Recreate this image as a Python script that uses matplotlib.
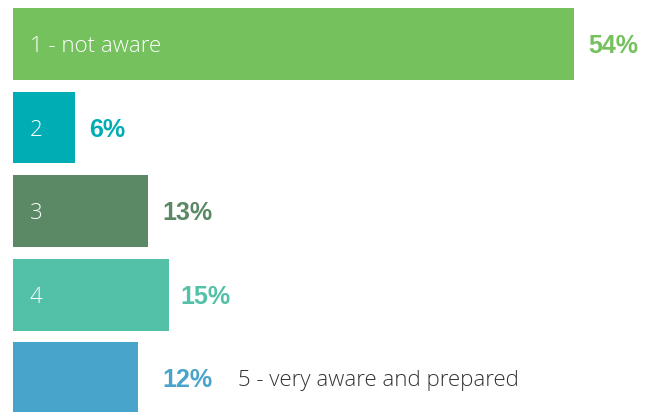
import matplotlib
matplotlib.use("Agg")
import matplotlib.pyplot as plt

categories = ["1 - not aware", "2", "3", "4", "5 - very aware and prepared"]
values = [54, 6, 13, 15, 12]
value_labels = ["54%", "6%", "13%", "15%", "12%"]
colors = ["#74c15d", "#00adb5", "#5b8865", "#53c0a8", "#48a4cb"]

fig = plt.figure(figsize=(6.53, 4.12), dpi=100)
ax = fig.add_axes([0, 0, 1, 1])
ypos = list(range(len(values)))
ax.barh(ypos, values, height=0.862, color=colors, left=0)
ax.set_xlim(-1.25, 61.6)
ax.set_ylim(4.407, -0.527)
ax.axis("off")

px = 1 / 10.39  # data units per pixel (x)
py = 1 / 83.5   # data units per pixel (y)
offsets = [14, 14, 14, 12, 25]
for i, (v, lab, c, cat) in enumerate(zip(values, value_labels, colors, categories)):
    ax.text(v + offsets[i] * px, i + 9 * py, lab, color=c, fontsize=18, fontweight="bold",
            family=["Liberation Sans", "DejaVu Sans"], va="baseline", ha="left")
    if i < 4:
        ax.text(17 * px, i + 8 * py, cat, color="white", fontsize=16, fontweight="light",
                family=["Open Sans", "DejaVu Sans"], va="baseline", ha="left")
    else:
        ax.text(v + 100 * px, i + 8 * py, cat, color="#333333", fontsize=16, fontweight="light",
                family=["Open Sans", "DejaVu Sans"], va="baseline", ha="left")

fig.savefig("out.png", dpi=100)
